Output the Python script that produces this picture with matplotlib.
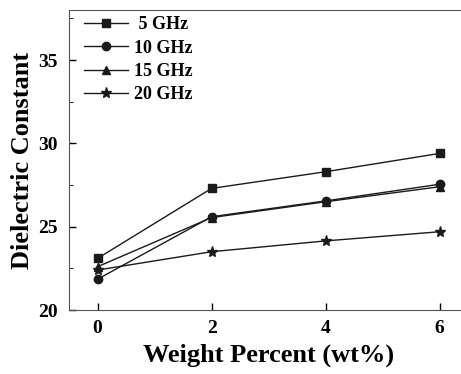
import matplotlib
matplotlib.use("Agg")
import matplotlib.pyplot as plt
from matplotlib.ticker import MultipleLocator

plt.rcParams["font.family"] = ["Liberation Serif", "DejaVu Serif"]
plt.rcParams["font.weight"] = "bold"

wt = [0, 2, 4, 6]
ghz_5 = [23.1, 27.3, 28.3, 29.4]
ghz_10 = [21.85, 25.6, 26.55, 27.55]
ghz_15 = [22.6, 25.55, 26.5, 27.4]
ghz_20 = [22.4, 23.5, 24.15, 24.7]

series = [
    (" 5 GHz", ghz_5, "s"),
    ("10 GHz", ghz_10, "o"),
    ("15 GHz", ghz_15, "^"),
    ("20 GHz", ghz_20, "*"),
]

fig = plt.figure(figsize=(4.61, 3.74), dpi=100)
ax = fig.add_axes([0.1497, 0.171, 0.866, 0.802])

for label, vals, mk in series:
    size = 8 if mk == "*" else 6
    ax.plot(wt, vals, color="#1a1a1a", lw=1.0, marker=mk, ms=size, label=label)

ax.set_xlim(-0.5, 6.5)
ax.set_ylim(20, 38)
ax.xaxis.set_major_locator(MultipleLocator(2))
ax.yaxis.set_major_locator(MultipleLocator(5))
ax.yaxis.set_minor_locator(MultipleLocator(2.5))
ax.tick_params(direction="in", labelsize=14, length=5, width=1)
ax.tick_params(axis="y", pad=8)
ax.tick_params(axis="x", pad=7)
ax.tick_params(which="minor", direction="in", length=3)
ax.tick_params(axis="x", top=False)
ax.tick_params(axis="y", right=False)
for lab in ax.get_xticklabels() + ax.get_yticklabels():
    lab.set_fontweight("bold")
for sp in ax.spines.values():
    sp.set_color("#555555")

ax.set_xlabel("Weight Percent (wt%)", fontsize=19, fontweight="bold", labelpad=5)
ax.set_ylabel("Dielectric Constant", fontsize=19, fontweight="bold", labelpad=3)

ax.legend(loc="upper left", bbox_to_anchor=(0.0225, 1.0), frameon=False,
          handlelength=2.4, handletextpad=0.35, labelspacing=0.35,
          borderaxespad=0.1, borderpad=0.25, prop={"weight": "bold", "size": 13})

fig.savefig("out.png", dpi=100)
